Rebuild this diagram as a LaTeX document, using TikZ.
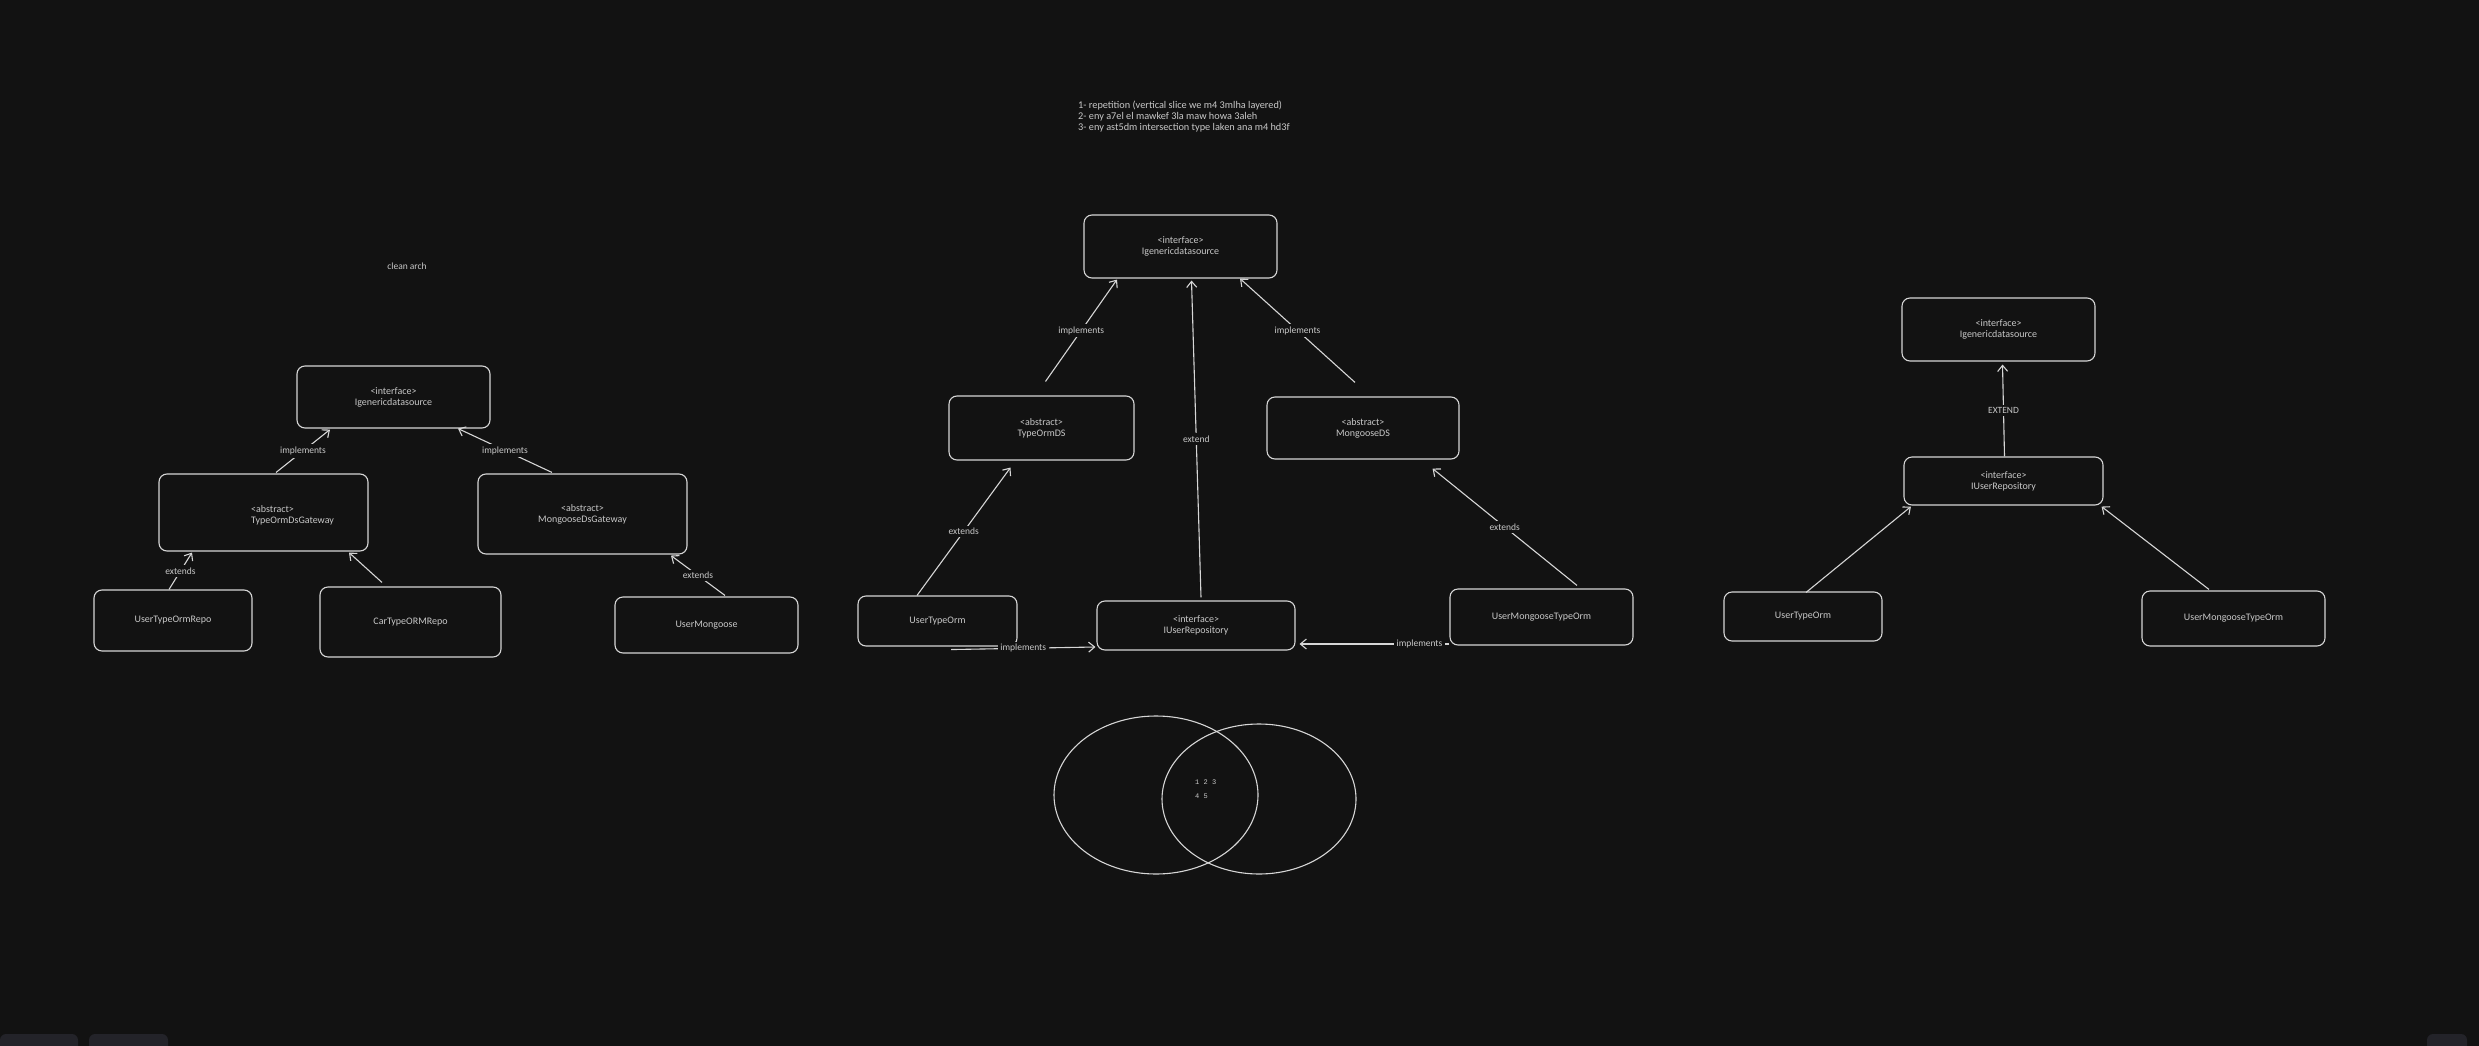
\documentclass[tikz,border=0pt]{standalone}
\usepackage{fontspec}
\setmainfont{Carlito}
\setmonofont{Liberation Mono}
\usetikzlibrary{arrows.meta,calc}
\definecolor{bg}{HTML}{121212}
\definecolor{fg}{HTML}{D6D6D6}
\definecolor{txt}{HTML}{C8C8C8}
\definecolor{uigray}{HTML}{232329}
\begin{document}
\begin{tikzpicture}[x=1pt,y=-1pt,
  box/.style={draw=fg, line width=1.1pt, rounded corners=8pt, text=txt, font=\fontsize{10}{11}\selectfont, align=center, inner sep=0pt},
  plain/.style={text=txt, font=\fontsize{10}{11}\selectfont, inner sep=0pt},
  conn/.style={draw=fg, line width=1.1pt, -{Straight Barb[length=6pt,width=10pt]}},
  lbl/.style={fill=bg, text=txt, font=\fontsize{9.5}{10}\selectfont, inner sep=2.5pt},
  ring/.style={draw=fg, line width=1.1pt}
]
\fill[bg] (0,0) rectangle (2479,1046);
\useasboundingbox (0,0) rectangle (2479,1046);

% bottom UI bits
\begin{scope}
\clip (0,0) rectangle (2479,1046);
\fill[uigray, rounded corners=6pt] (0,1034) rectangle (78,1056);
\fill[uigray, rounded corners=6pt] (89,1034) rectangle (168,1056);
\fill[uigray, rounded corners=6pt] (2427,1034) rectangle (2467,1056);
\end{scope}

% notes
\node[plain, font=\fontsize{10.3}{11}\selectfont, align=left, anchor=west] (notes) at (1078,117)
 {1- repetition (vertical slice we m4 3mlha layered)\\2- eny a7el el mawkef 3la maw howa 3aleh\\3- eny ast5dm intersection type laken ana m4 hd3f};
\node[plain, font=\fontsize{9.5}{11}\selectfont] (clean) at (407,266) {clean arch};

% ---------- diagram 1 ----------
\node[box, minimum width=193pt, minimum height=62pt] (d1top) at (393.5,397) {<interface>\\Igenericdatasource};
\node[box, minimum width=209pt, minimum height=77pt] (d1tod) at (263.5,512.5) {};
\node[plain, align=left, anchor=west] (d1todt) at (251,515) {<abstract>\\TypeOrmDsGateway};
\node[box, minimum width=209pt, minimum height=80pt] (d1mod) at (582.5,514) {<abstract>\\MongooseDsGateway};
\node[box, minimum width=158pt, minimum height=61pt] (d1utr) at (173,620.5) {UserTypeOrmRepo};
\node[box, minimum width=181pt, minimum height=70pt] (d1car) at (410.5,622) {CarTypeORMRepo};
\node[box, minimum width=183pt, minimum height=56pt] (d1um) at (706.5,625) {UserMongoose};

\draw[conn] ($(d1tod.north)+(12.5,-1)$) -- node[lbl] {implements} ($(d1top.south)+(-63.5,1)$);
\draw[conn] ($(d1mod.north)+(-30.5,-1)$) -- node[lbl] {implements} ($(d1top.south)+(64.5,0)$);
\draw[conn] ($(d1utr.north)+(-4,0)$) -- node[lbl] {extends} ($(d1tod.south)+(-71.5,1)$);
\draw[conn] ($(d1car.north)+(-28.5,-4)$) -- ($(d1tod.south)+(85.5,1)$);
\draw[conn] ($(d1um.north)+(18.5,-1)$) -- node[lbl] {extends} ($(d1mod.south)+(88.5,1)$);

% ---------- diagram 2 ----------
\node[box, minimum width=193pt, minimum height=63pt] (d2top) at (1180.5,246.5) {<interface>\\Igenericdatasource};
\node[box, minimum width=185pt, minimum height=64pt] (d2tod) at (1041.5,428) {<abstract>\\TypeOrmDS};
\node[box, minimum width=192pt, minimum height=62pt] (d2mod) at (1363,428) {<abstract>\\MongooseDS};
\node[box, minimum width=159pt, minimum height=50pt] (d2ut) at (937.5,621) {UserTypeOrm};
\node[box, minimum width=198pt, minimum height=49pt] (d2iur) at (1196,625.5) {<interface>\\IUserRepository};
\node[box, minimum width=183pt, minimum height=56pt] (d2umt) at (1541.5,617) {UserMongooseTypeOrm};

\draw[conn] ($(d2tod.north)+(4,-14)$) -- node[lbl] {implements} ($(d2top.south)+(-63.5,1)$);
\draw[conn] ($(d2iur.north)+(5,-3)$) -- node[lbl] {extend} ($(d2top.south)+(11,2)$);
\draw[conn] ($(d2mod.north)+(-8,-14)$) -- node[lbl] {implements} ($(d2top.south)+(59.5,0)$);
\draw[conn] ($(d2ut.north)+(-20.5,0)$) -- node[lbl] {extends} ($(d2tod.south)+(-31,7)$);
\draw[conn] ($(d2umt.north)+(35.5,-3)$) -- node[lbl] {extends} ($(d2mod.south)+(69.5,9)$);
\draw[conn] ($(d2ut.south)+(13.5,3)$) -- node[lbl] {implements} ($(d2iur.west)+(-1,21.5)$);
\draw[conn] ($(d2umt.west)+(0,27)$) -- node[lbl, pos=0.2] {implements} ($(d2iur.east)+(4,18.5)$);

% ---------- diagram 3 ----------
\node[box, minimum width=193pt, minimum height=63pt] (d3top) at (1998.5,329.5) {<interface>\\Igenericdatasource};
\node[box, minimum width=199pt, minimum height=48pt] (d3iur) at (2003.5,481) {<interface>\\IUserRepository};
\node[box, minimum width=158pt, minimum height=49pt] (d3ut) at (1803,616.5) {UserTypeOrm};
\node[box, minimum width=183pt, minimum height=55pt] (d3umt) at (2233.5,618.5) {UserMongooseTypeOrm};

\draw[conn] ($(d3iur.north)+(1,0)$) -- node[lbl] {EXTEND} ($(d3top.south)+(4,3)$);
\draw[conn] ($(d3ut.north)+(3,1)$) -- ($(d3iur.south west)+(7.5,1)$);
\draw[conn] ($(d3umt.north)+(-24.5,-1)$) -- ($(d3iur.south east)+(-2,1)$);

% ---------- venn ----------
\draw[ring] (1156,795) ellipse [x radius=102, y radius=79];
\draw[ring] (1259,799) ellipse [x radius=97, y radius=75];
\node[plain, font=\ttfamily\fontsize{7}{14}\selectfont, align=left, anchor=west] (venn) at (1195,789) {1 2 3\\4 5};
\end{tikzpicture}
\end{document}
